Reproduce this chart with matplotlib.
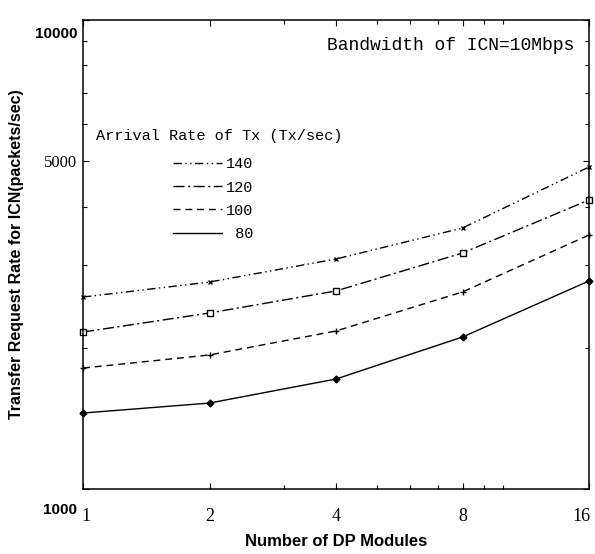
import numpy as np
import matplotlib.pyplot as plt
from matplotlib.transforms import ScaledTranslation

# DP modules and transfer request rates (packets/sec)
modules = [1, 2, 4, 8, 16]
rate_140 = [2566, 2762, 3093, 3601, 4859]
rate_120 = [2161, 2373, 2644, 3185, 4133]
rate_100 = [1811, 1931, 2172, 2631, 3480]
rate_80 = [1452, 1525, 1716, 2109, 2777]

x_ticks = [1, 2, 4, 8, 16]
x_labels = ["1", "2", "4", "8", "16"]
y_ticks = [1000, 5000, 10000]
y_labels = ["1000", "5000", "10000"]

fig = plt.figure(figsize=(5.95, 5.54), dpi=100)
ax = fig.add_axes([0.1395, 0.1173, 0.8505, 0.8467])

ax.plot(modules, rate_140, color="black", lw=1.0, ls=(0, (6, 2.5, 1, 2.5, 1, 2.5)),
        marker="x", ms=3.5, mew=1.0, clip_on=False, label="140")
ax.plot(modules, rate_120, color="black", lw=1.0, ls=(0, (8, 2.5, 1.5, 2.5)),
        marker="s", ms=4, mfc="white", mew=1.0, clip_on=False, label="120")
ax.plot(modules, rate_100, color="black", lw=1.0, ls=(0, (5, 3.5)),
        marker="+", ms=5, mew=1.0, clip_on=False, label="100")
ax.plot(modules, rate_80, color="black", lw=1.0, ls="-",
        marker="D", ms=3.5, clip_on=False, label=" 80")

ax.set_xscale("log")
ax.set_yscale("log")
ax.set_xlim(1, 16)
ax.set_ylim(1000, 10000)

ax.set_xticks(x_ticks)
ax.set_xticklabels(x_labels, family="Liberation Serif", fontsize=13)
ax.set_xticks([3, 5, 6, 7, 9, 10], minor=True)
ax.set_yticks(y_ticks)
ax.set_yticklabels(y_labels)
ax.set_yticks([2000, 3000, 4000, 6000, 7000, 8000, 9000], minor=True)
ax.yaxis.set_minor_formatter(plt.NullFormatter())
ax.xaxis.set_minor_formatter(plt.NullFormatter())

ax.tick_params(which="both", direction="in", top=True, right=True, width=0.8)
ax.tick_params(which="major", length=4)
ax.tick_params(which="minor", length=3)
ax.tick_params(axis="x", pad=14)
ax.tick_params(axis="y", pad=4)

def shift(label, dx_px, dy_px):
    label.set_transform(label.get_transform()
                        + ScaledTranslation(dx_px / 100, dy_px / 100, fig.dpi_scale_trans))

# y tick labels: the end labels sit a little below their ticks in the original
ylabs = ax.get_yticklabels()
ylabs[0].set(family="Liberation Sans", fontweight="bold", fontsize=11)
shift(ylabs[0], 0, -19)
ylabs[1].set(family="Liberation Serif", fontsize=12)
ylabs[2].set(family="Liberation Sans", fontweight="bold", fontsize=11)
shift(ylabs[2], 0, -13)

xlabs = ax.get_xticklabels()
shift(xlabs[0], 3, 0)
shift(xlabs[-1], -8, 0)

for s in ax.spines.values():
    s.set_linewidth(1.1)

ax.set_xlabel("Number of DP Modules", family="Liberation Sans", fontweight="bold",
              fontsize=12, labelpad=6)
ax.set_ylabel("Transfer Request Rate for ICN(packets/sec)", family="Liberation Sans",
              fontweight="bold", fontsize=11.5, labelpad=8)

ax.text(0.97, 0.945, "Bandwidth of ICN=10Mbps", transform=ax.transAxes,
        family="Liberation Mono", fontsize=13, ha="right", va="center")
ax.text(0.026, 0.752, "Arrival Rate of Tx (Tx/sec)", transform=ax.transAxes,
        family="Liberation Mono", fontsize=11, ha="left", va="center")

leg = ax.legend(loc="upper left", bbox_to_anchor=(0.165, 0.72), frameon=False,
                handlelength=3.2, handletextpad=0.3, labelspacing=0.6,
                borderaxespad=0, prop={"family": "Liberation Mono", "size": 11})
for ln in leg.get_lines():
    ln.set_marker("None")

fig.savefig("out.png", dpi=100)
